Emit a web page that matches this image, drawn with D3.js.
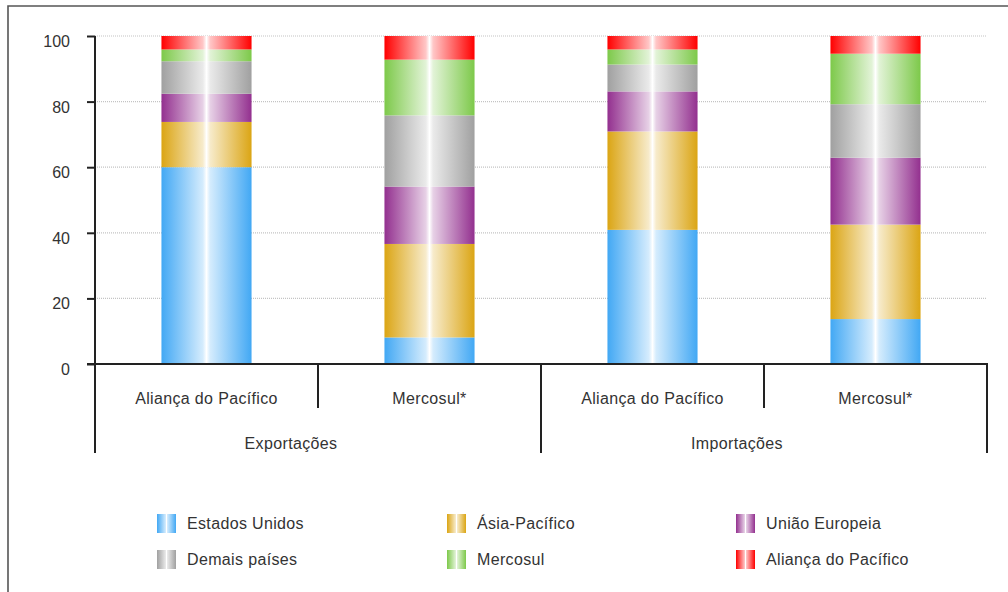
<!DOCTYPE html>
<html><head><meta charset="utf-8">
<script src="https://cdn.jsdelivr.net/npm/d3@7"></script>
<style>body{margin:0;background:#fff}svg{display:block;font-family:"Liberation Sans",Arial,sans-serif}</style>
</head><body><svg id="c" width="1008" height="592"></svg>
<script>
const categories = ["Aliança do Pacífico","Mercosul*","Aliança do Pacífico","Mercosul*"];
const groups = ["Exportações","Importações"];
const seriesNames = ["Estados Unidos","Ásia-Pacífico","União Europeia","Demais países","Mercosul","Aliança do Pacífico"];
const estadosUnidos = [60.0, 8.1, 40.9, 13.7];
const asiaPacifico = [13.8, 28.5, 30.0, 28.8];
const uniaoEuropeia = [8.6, 17.5, 12.2, 20.4];
const demaisPaises = [9.9, 21.7, 8.2, 16.3];
const mercosul = [3.6, 17.0, 4.6, 15.4];
const aliancaPacifico = [4.1, 7.2, 4.1, 5.4];
const yTicks = [0,20,40,60,80,100];
const colors = ["#42a8f4","#dba514","#93308f","#a0a0a0","#7dc94a","#ff0000"];

const seriesValues = [estadosUnidos, asiaPacifico, uniaoEuropeia, demaisPaises, mercosul, aliancaPacifico];
const table = categories.map((c,i)=>{const o={idx:i}; seriesNames.forEach((s,j)=>o[s]=seriesValues[j][i]); return o;});

const svg = d3.select("#c");
const X0=95, X1=987, Y0=364, Y1=36;
const x = d3.scaleBand().domain(categories.map((c,i)=>i)).range([X0,X1]).paddingInner(0.596).paddingOuter(0.298);
const y = d3.scaleLinear().domain([0,100]).range([Y0,Y1]);

// gradients
const defs = svg.append("defs");
colors.forEach((c,i)=>{
  const light = d3.interpolateRgb(c,"#fff")(0.78);
  const g = defs.append("linearGradient").attr("id","g"+i).attr("x1","0").attr("x2","1").attr("y1","0").attr("y2","0");
  [[0,c],[0.46,light],[0.5,"#fff"],[0.54,light],[1,c]].forEach(([o,col])=>g.append("stop").attr("offset",o).attr("stop-color",col));
});

// frame
svg.append("path").attr("d","M8,592V6H1008").attr("fill","none").attr("stroke","#555").attr("stroke-width",1.6);

// grid
svg.append("g").selectAll("line").data(yTicks.filter(t=>t>0)).join("line")
  .attr("x1",X0).attr("x2",X1).attr("y1",d=>y(d)).attr("y2",d=>y(d))
  .attr("stroke","#c4c4c4").attr("stroke-width",1.2).attr("stroke-dasharray","1,1");

// bars
const stack = d3.stack().keys(seriesNames)(table);
svg.append("g").selectAll("g").data(stack).join("g")
  .attr("fill",(d,i)=>`url(#g${i})`)
  .selectAll("rect").data(d=>d).join("rect")
  .attr("x",d=>x(d.data.idx)).attr("width",x.bandwidth())
  .attr("y",d=>y(d[1])).attr("height",d=>y(d[0])-y(d[1]));

// y axis
const yAxis = svg.append("g").attr("transform",`translate(${X0},0)`)
  .call(d3.axisLeft(y).tickValues(yTicks).tickSize(8).tickPadding(17));
yAxis.select(".domain").remove();
yAxis.selectAll(".tick line").attr("stroke","#222").attr("stroke-width",2);
yAxis.selectAll(".tick text").attr("font-size",16).attr("fill","#333").attr("dy","0.66em")
  .attr("font-family","Liberation Sans, Arial, sans-serif");
const ax = svg.append("g").attr("stroke","#222").attr("stroke-width",2);
ax.append("line").attr("x1",X0).attr("x2",X0).attr("y1",Y1).attr("y2",453);
ax.append("line").attr("x1",87).attr("x2",X1+1).attr("y1",Y0).attr("y2",Y0);

// x category dividers
const step = x.step();
const bounds = categories.map((c,i)=>x(i)-x.paddingOuter()*step);
bounds.push(X1);
bounds.forEach((b,i)=>{ if(i===0) return;
  ax.append("line").attr("x1",b).attr("x2",b).attr("y1",Y0).attr("y2", i%2===0?453:408);
});

// category labels
svg.append("g").selectAll("text").data(categories).join("text")
  .attr("x",(d,i)=>x(i)+x.bandwidth()/2).attr("y",404).attr("text-anchor","middle")
  .attr("font-size",16).attr("letter-spacing","0.35px").attr("fill","#333").text(d=>d);
svg.append("g").selectAll("text").data(groups).join("text")
  .attr("x",(d,i)=>(bounds[i*2]+bounds[i*2+2])/2 - 27).attr("y",449).attr("text-anchor","middle")
  .attr("font-size",16).attr("letter-spacing","0.35px").attr("fill","#333").text(d=>d);

// legend
const legX=[157,447,736], legY=[514,550];
const lg = svg.append("g").selectAll("g").data(seriesNames).join("g")
  .attr("transform",(d,i)=>`translate(${legX[i%3]},${legY[Math.floor(i/3)]})`);
lg.append("rect").attr("width",19).attr("height",19).attr("fill",(d,i)=>`url(#g${i})`);
lg.append("text").attr("x",30).attr("y",14.5).attr("font-size",16).attr("letter-spacing","0.35px").attr("fill","#333").text(d=>d);
</script></body></html>
